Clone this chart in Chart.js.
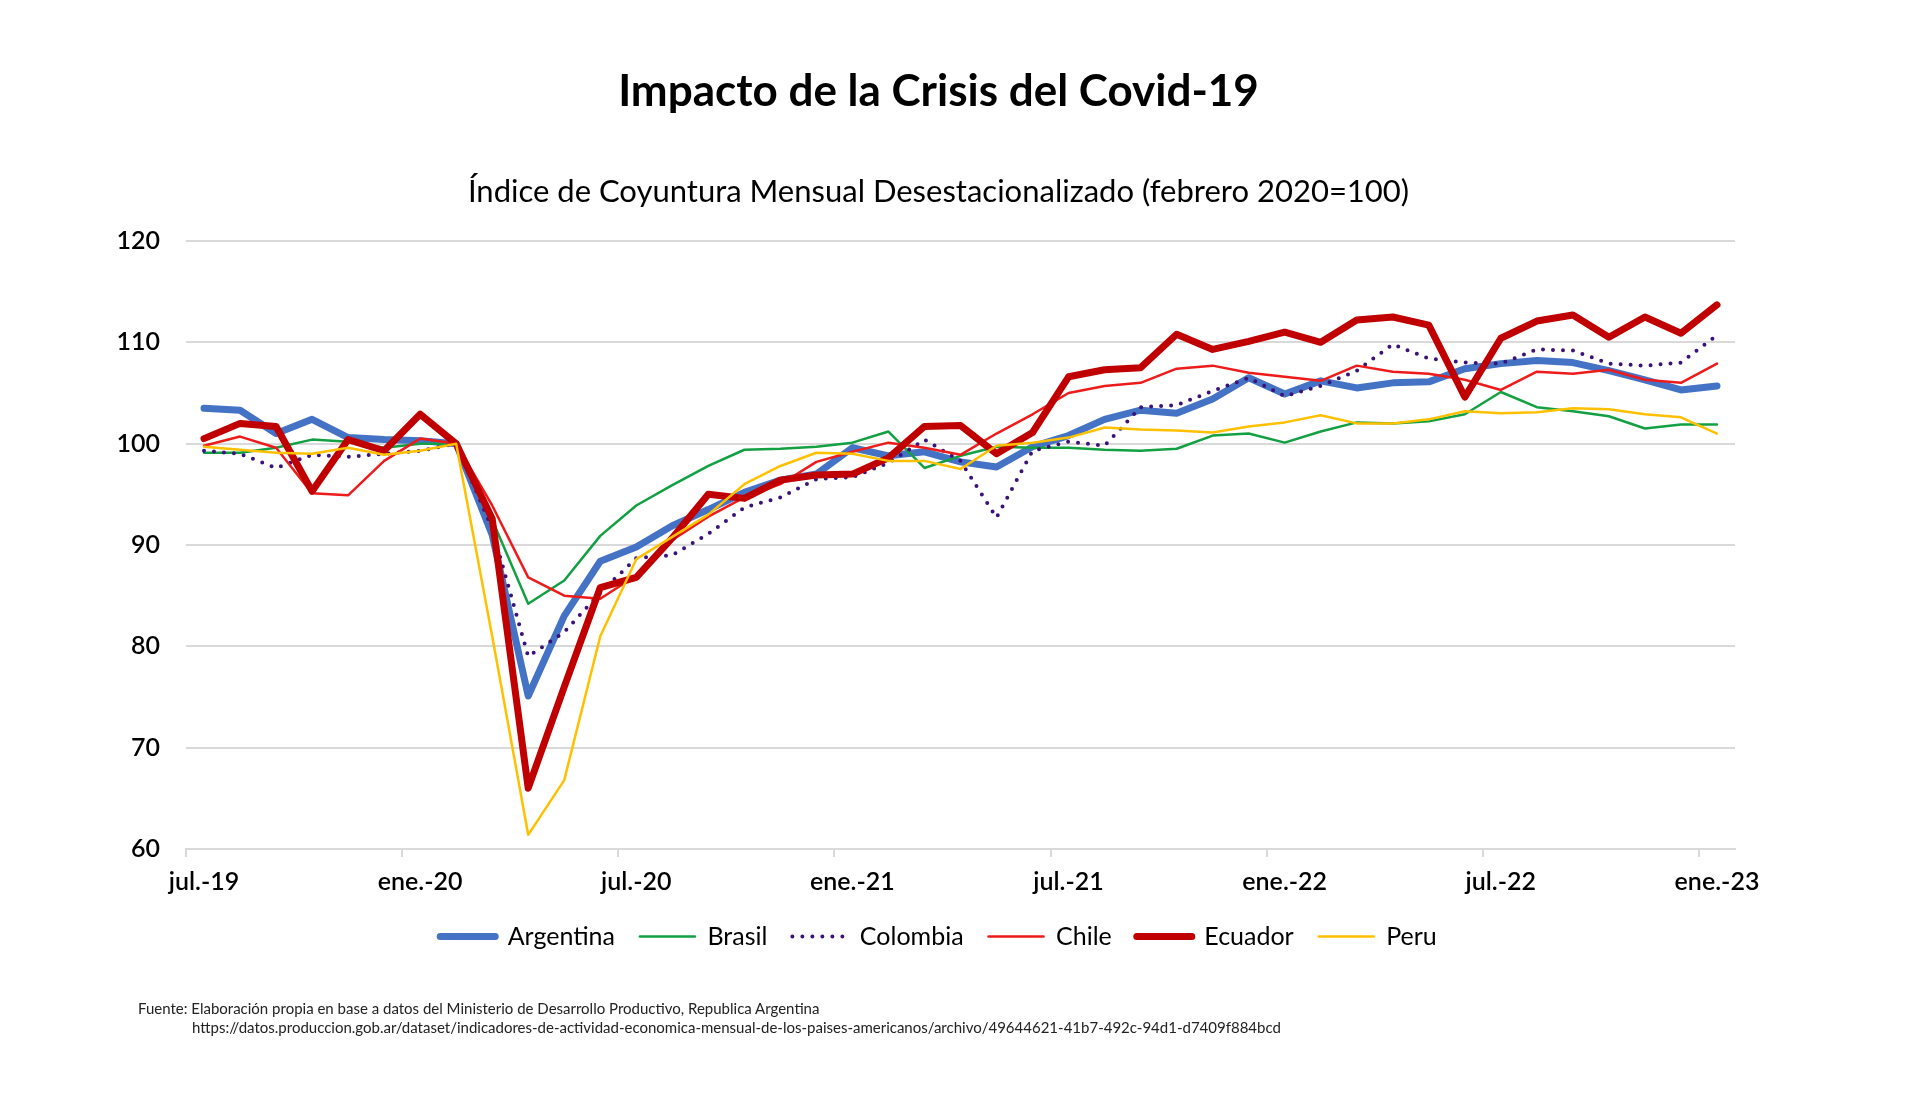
<!DOCTYPE html>
<html>
<head>
<meta charset="utf-8">
<script src="https://cdn.jsdelivr.net/npm/chart.js@4.4.1/dist/chart.umd.min.js"></script>
<style>
  html, body { margin: 0; padding: 0; background: #fff; }
  #wrap { position: relative; width: 1920px; height: 1116px; }
  #chart { position: absolute; left: 0; top: 0; }
  .note { position: absolute; font-family: Lato, "Noto Sans", sans-serif; font-size: 15px; color: #222; white-space: nowrap; }
</style>
</head>
<body>
<div id="wrap">
  <canvas id="chart" width="1920" height="1116"></canvas>
  <div class="note" style="left:138px; top:999px;">Fuente: Elaboración propia en base a datos del Ministerio de Desarrollo Productivo, Republica Argentina</div>
  <div class="note" style="left:192px; top:1018px;">https://datos.produccion.gob.ar/dataset/indicadores-de-actividad-economica-mensual-de-los-paises-americanos/archivo/49644621-41b7-492c-94d1-d7409f884bcd</div>
</div>
<script>
const months = ['jul.-19','ago.-19','sep.-19','oct.-19','nov.-19','dic.-19',
  'ene.-20','feb.-20','mar.-20','abr.-20','may.-20','jun.-20','jul.-20','ago.-20','sep.-20','oct.-20','nov.-20','dic.-20',
  'ene.-21','feb.-21','mar.-21','abr.-21','may.-21','jun.-21','jul.-21','ago.-21','sep.-21','oct.-21','nov.-21','dic.-21',
  'ene.-22','feb.-22','mar.-22','abr.-22','may.-22','jun.-22','jul.-22','ago.-22','sep.-22','oct.-22','nov.-22','dic.-22',
  'ene.-23'];

const argentina = [103.5, 103.3, 101.0, 102.4, 100.6, 100.4, 100.3, 100.0, 91.0, 75.1,
  83.0, 88.4, 89.8, 91.9, 93.5, 95.2, 96.4, 97.0, 99.6, 98.8,
  99.2, 98.2, 97.7, 99.7, 100.8, 102.4, 103.3, 103.0, 104.4, 106.5,
  104.9, 106.2, 105.5, 106.0, 106.1, 107.4, 107.9, 108.2, 108.0, 107.2,
  106.3, 105.3, 105.7];
const brasil = [99.1, 99.1, 99.6, 100.4, 100.2, 99.6, 100.0, 100.0, 92.5, 84.2,
  86.5, 90.9, 93.9, 95.9, 97.8, 99.4, 99.5, 99.7, 100.1, 101.2,
  97.6, 98.8, 99.7, 99.6, 99.6, 99.4, 99.3, 99.5, 100.8, 101.0,
  100.1, 101.2, 102.1, 102.0, 102.2, 102.9, 105.1, 103.6, 103.2, 102.7,
  101.5, 101.9, 101.9];
const colombia = [99.3, 99.0, 97.6, 98.9, 98.7, 99.0, 99.3, 100.0, 91.6, 79.0,
  81.4, 85.3, 88.7, 89.0, 91.1, 93.7, 94.7, 96.5, 96.7, 98.1,
  100.4, 98.3, 92.7, 99.3, 100.2, 99.8, 103.6, 103.8, 105.2, 106.5,
  104.7, 105.7, 107.2, 109.8, 108.4, 108.0, 107.9, 109.3, 109.2, 107.9,
  107.7, 108.0, 110.7];
const chile = [99.8, 100.7, 99.6, 95.1, 94.9, 98.3, 100.5, 100.0, 93.9, 86.8,
  85.0, 84.7, 87.0, 90.5, 92.8, 94.7, 96.0, 98.2, 99.2, 100.1,
  99.6, 98.9, 101.0, 102.9, 105.0, 105.7, 106.0, 107.4, 107.7, 107.0,
  106.6, 106.2, 107.7, 107.1, 106.9, 106.3, 105.3, 107.1, 106.9, 107.3,
  106.3, 106.0, 107.9];
const ecuador = [100.5, 102.0, 101.7, 95.3, 100.4, 99.3, 102.9, 100.0, 92.6, 66.0,
  76.0, 85.8, 86.8, 90.7, 95.0, 94.6, 96.4, 96.9, 97.0, 98.6,
  101.7, 101.8, 99.0, 101.1, 106.6, 107.3, 107.5, 110.8, 109.3, 110.1,
  111.0, 110.0, 112.2, 112.5, 111.7, 104.6, 110.4, 112.1, 112.7, 110.5,
  112.5, 110.9, 113.7];
const peru = [99.7, 99.4, 99.1, 99.0, 99.6, 98.9, 99.3, 100.0, 81.0, 61.4,
  66.8, 81.0, 88.6, 90.8, 93.0, 96.0, 97.8, 99.1, 99.0, 98.3,
  98.3, 97.5, 99.8, 100.1, 100.6, 101.6, 101.4, 101.3, 101.1, 101.7,
  102.1, 102.8, 102.0, 102.0, 102.4, 103.2, 103.0, 103.1, 103.5, 103.4,
  102.9, 102.6, 101.0];

const FONT = 'Lato, "Noto Sans", sans-serif';
const GRID = '#d9d9d9';

// Excel draws later series on top; Chart.js draws lower "order" on top
function series(label, data, color, width, order, dash) {
    return {
        label: label,
        data: data,
        borderColor: color,
        backgroundColor: color,
        borderWidth: width,
        borderDash: dash || [],
        borderCapStyle: 'round',
        borderJoinStyle: 'round',
        pointRadius: 0,
        pointHoverRadius: 0,
        tension: 0,
        fill: false,
        order: order
    };
}

// titles and legend sit a little left of the plot centre in the original
const shiftBoxes = {
    id: 'shiftBoxes',
    afterLayout(chart) {
        chart.boxes.forEach(box => {
            if (box instanceof Chart.Scale) return;
            box.left -= 22;
            box.right -= 22;
        });
    }
};

new Chart(document.getElementById('chart'), {
    type: 'line',
    data: {
        labels: months,
        datasets: [
            series('Argentina', argentina, '#4472C4', 7, 5),
            series('Brasil', brasil, '#12A043', 2.5, 4),
            series('Colombia', colombia, '#3B127A', 4, 3, [0, 10]),
            series('Chile', chile, '#EE1B1B', 2.5, 2),
            series('Ecuador', ecuador, '#C00000', 7, 1),
            series('Peru', peru, '#FFC000', 2.5, 0)
        ]
    },
    options: {
        responsive: false,
        animation: false,
        devicePixelRatio: 1,
        layout: { padding: { left: 0, right: 185, top: 0, bottom: 157 } },
        plugins: {
            title: {
                display: true,
                fullSize: false,
                text: 'Impacto de la Crisis del Covid-19',
                color: '#000',
                font: { family: FONT, size: 44, weight: 'bold' },
                padding: { top: 65, bottom: 28 }
            },
            subtitle: {
                display: true,
                fullSize: false,
                text: 'Índice de Coyuntura Mensual Desestacionalizado (febrero 2020=100)',
                color: '#000',
                font: { family: FONT, size: 31 },
                padding: { top: 28, bottom: 30 }
            },
            legend: {
                position: 'bottom',
                fullSize: false,
                labels: {
                    color: '#000',
                    font: { family: FONT, size: 25 },
                    usePointStyle: true,
                    pointStyleWidth: 55,
                    padding: 25,
                    generateLabels(chart) {
                        return chart.data.datasets.map((ds, i) => ({
                            text: ds.label,
                            fillStyle: ds.borderColor,
                            strokeStyle: ds.borderColor,
                            lineWidth: ds.borderWidth,
                            lineDash: ds.borderDash,
                            lineCap: 'round',
                            pointStyle: 'line',
                            fontColor: '#000',
                            hidden: false,
                            datasetIndex: i
                        }));
                    }
                }
            },
            tooltip: { enabled: false }
        },
        scales: {
            x: {
                offset: true,
                afterFit(scale) { scale.height = 50; },
                grid: {
                    offset: true,
                    drawOnChartArea: false,
                    drawTicks: true,
                    tickLength: 8,
                    lineWidth: 2,
                    color: (c) => (c.index !== undefined && c.index % 6 === 0) ? GRID : 'rgba(0,0,0,0)'
                },
                border: { display: true, color: GRID, width: 2 },
                ticks: {
                    autoSkip: false,
                    maxRotation: 0,
                    padding: 10,
                    color: '#000',
                    font: { family: FONT, size: 25, weight: '600' },
                    callback: (v, i) => (i % 6 === 0 ? months[i] : '')
                }
            },
            y: {
                min: 60,
                max: 120,
                afterFit(scale) { scale.width = 186; },
                grid: { color: GRID, lineWidth: 2, drawTicks: false },
                border: { display: false },
                ticks: {
                    stepSize: 10,
                    padding: 26,
                    color: '#000',
                    font: { family: FONT, size: 25, weight: '600' }
                }
            }
        }
    },
    plugins: [shiftBoxes]
});
</script>
</body>
</html>
